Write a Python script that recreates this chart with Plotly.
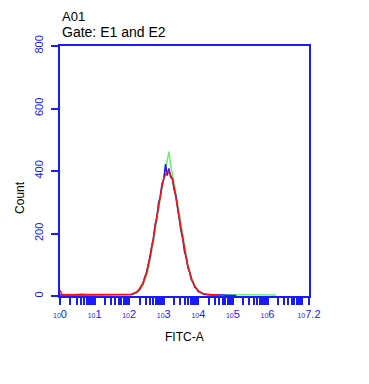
import plotly.graph_objects as go

# Histogram channels expressed in decades (log10 of FITC-A)
peak_dec = [1.90, 1.95, 2.00, 2.05, 2.10, 2.15, 2.20, 2.25, 2.30, 2.35, 2.40, 2.45, 2.50,
            2.55, 2.60, 2.65, 2.70, 2.75, 2.80, 2.85, 2.90, 2.95, 3.00, 3.05, 3.10, 3.15,
            3.20, 3.25, 3.30, 3.35, 3.40, 3.45, 3.50, 3.55, 3.60, 3.65, 3.70, 3.75, 3.80,
            3.85, 3.90, 3.95, 4.00, 4.05, 4.10, 4.15, 4.20, 4.25, 4.30, 4.35, 4.40]

red_peak = [5, 4, 5, 6, 7, 9, 12, 16, 22, 31, 42, 57, 75, 97, 124, 153, 186, 222, 256, 291,
            324, 352, 377, 390, 398, 400, 388, 373, 347, 318, 286, 249, 215, 180, 149, 120,
            95, 73, 55, 41, 30, 22, 16, 12, 9, 7, 6, 5, 5, 4, 4]
blue_peak = [4, 3, 4, 5, 6, 10, 11, 17, 21, 33, 40, 60, 73, 101, 121, 158, 183, 228, 250, 298,
             318, 360, 372, 422, 385, 408, 380, 376, 340, 322, 279, 252, 208, 183, 142, 124,
             90, 76, 52, 43, 28, 23, 14, 12, 8, 6, 5, 4, 4, 3, 4]
green_peak = [3, 3, 3, 4, 5, 6, 9, 12, 17, 24, 34, 47, 63, 84, 110, 140, 172, 208, 245, 282,
              318, 350, 380, 405, 430, 462, 420, 395, 360, 330, 296, 262, 226, 190, 156, 126,
              100, 78, 60, 45, 33, 24, 18, 13, 10, 8, 6, 5, 5, 5, 4]

low_dec = [0.00, 0.02, 0.05, 0.10, 0.20, 0.40, 0.60, 0.80, 1.00, 1.20, 1.40, 1.60, 1.80, 1.85]
red_low = [18, 12, 6, 4, 5, 4, 6, 5, 5, 6, 5, 6, 5, 5]
blue_low = [3, 3, 3, 3, 4, 3, 4, 3, 4, 3, 4, 3, 4, 4]
green_low = [2, 2, 3, 3, 3, 4, 3, 4, 3, 4, 3, 4, 3, 3]

red_high_dec = [4.50, 4.60]
red_high = [4, 3]
blue_high_dec = [4.50, 4.70, 4.90, 5.10]
blue_high = [3, 3, 2, 2]
green_high_dec = [4.50, 4.70, 4.90, 5.10, 5.30, 5.50, 5.70, 5.90, 6.10, 6.25]
green_high = [5, 4, 5, 4, 5, 4, 5, 4, 4, 3]

x_tick_dec = [0, 1, 2, 3, 4, 5, 6, 7, 7.2]
x_tick_exp = ["0", "1", "2", "3", "4", "5", "6", "", "7.2"]
y_ticks = [0, 200, 400, 600, 800]

series = [
    ("green", "#6ef06e", low_dec + peak_dec + green_high_dec, green_low + green_peak + green_high),
    ("blue", "#1a1aff", low_dec + peak_dec + blue_high_dec, blue_low + blue_peak + blue_high),
    ("red", "#ff1010", low_dec + peak_dec + red_high_dec, red_low + red_peak + red_high),
]

fig = go.Figure()
for name, col, xd, yv in series:
    fig.add_trace(go.Scatter(x=[10 ** v for v in xd], y=yv, mode="lines", name=name,
                             line=dict(color=col, width=1.5), showlegend=False))

minor_vals = [m * 10 ** k for k in range(0, 8) for m in range(2, 10) if m * 10 ** k < 10 ** 7.2]

fig.update_layout(
    width=369, height=384,
    margin=dict(l=52, r=68, t=38, b=96),
    paper_bgcolor="white", plot_bgcolor="white",
    font=dict(family="Liberation Sans, Arial, sans-serif"),
    xaxis=dict(
        type="log", range=[0, 7.2], automargin=False,
        tickvals=[10 ** v for v in x_tick_dec],
        ticktext=[("<span style='font-size:7px'>10</span>" + e) if e else "" for e in x_tick_exp],
        tickfont=dict(color="#1a1aff", size=11), tickangle=0,
        ticks="outside", ticklen=7, tickcolor="#1a1aff", tickwidth=1.5,
        minor=dict(tickvals=minor_vals, ticks="outside", ticklen=7, tickcolor="#1a1aff", tickwidth=1.5),
        showline=True, linecolor="#1a1aff", linewidth=2, mirror=True,
        showgrid=False, zeroline=False,
    ),
    yaxis=dict(
        range=[0, 800], tickvals=y_ticks, automargin=False,
        tickfont=dict(color="#1a1aff", size=11), tickangle=-90,
        ticks="outside", ticklen=7, tickcolor="#1a1aff", tickwidth=1.5,
        ticklabelstandoff=4,
        showline=True, linecolor="#1a1aff", linewidth=2, mirror=True,
        showgrid=False, zeroline=False,
    ),
    annotations=[
        dict(text="A01", xref="paper", yref="paper", x=0, y=1.118, xanchor="left", yanchor="middle",
             showarrow=False, font=dict(size=13, color="black")),
        dict(text="Gate: E1 and E2", xref="paper", yref="paper", x=0, y=1.054, xanchor="left",
             yanchor="middle", showarrow=False, font=dict(size=14, color="black")),
        dict(text="FITC-A", xref="paper", yref="paper", x=0.502, y=-0.164, xanchor="center",
             yanchor="middle", showarrow=False, font=dict(size=12, color="black")),
        dict(text="Count", xref="paper", yref="paper", x=-0.161, y=0.396, xanchor="center",
             yanchor="middle", textangle=-90, showarrow=False, font=dict(size=12, color="black")),
    ],
)

fig.write_html("out.html")
